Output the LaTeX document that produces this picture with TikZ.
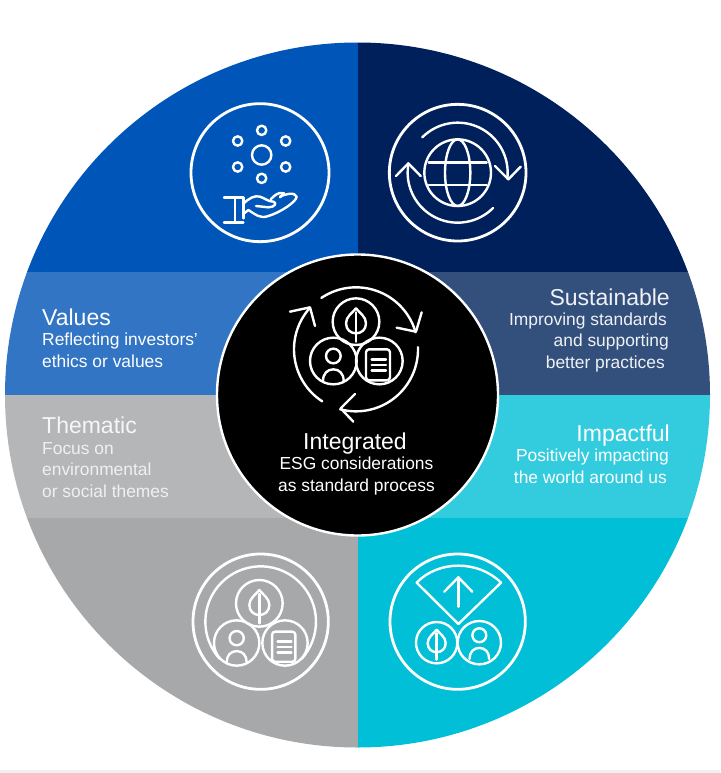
\documentclass[tikz,border=0pt]{standalone}
\usepackage{fontspec}
\setmainfont{Liberation Sans}
\definecolor{bluedeep}{HTML}{0055B8}
\definecolor{bluesoft}{HTML}{3375C5}
\definecolor{navydeep}{HTML}{00205B}
\definecolor{navysoft}{HTML}{33507C}
\definecolor{cyandeep}{HTML}{00BFD7}
\definecolor{cyansoft}{HTML}{33CCDE}
\definecolor{greydeep}{HTML}{A7A8AA}
\definecolor{greysoft}{HTML}{B5B6B8}
\definecolor{footstrip}{HTML}{EEF0F3}
\tikzset{
  iconline/.style={draw=white, line width=2.4pt, line cap=round, line join=round},
  iconring/.style={draw=white, line width=2.8pt},
  titlelabel/.style={inner sep=0pt, font=\fontsize{23}{27}\selectfont},
  sublabel/.style={inner sep=0pt, font=\fontsize{17.4}{21.2}\selectfont}
}
% arc in the y-down system: centre x, centre y, radius, from, to
\newcommand{\iconarc}[5]{\draw[iconline] plot[domain=#4:#5,samples=50] ({#1+#3*cos(\x)},{#2+#3*sin(\x)});}
\newcommand{\leafmark}[3]{
  \begin{scope}[shift={(#1,#2)},scale=#3]
    \draw[iconline] (0,-40) .. controls (12,-25) and (30,-15) .. (30,5) .. controls (30,25) and (15,35) .. (0,35)
      .. controls (-15,35) and (-30,25) .. (-30,5) .. controls (-30,-15) and (-12,-25) .. (0,-40);
    \draw[iconline] (0,-28) -- (0,60);
  \end{scope}}
\newcommand{\personmark}[3]{
  \begin{scope}[shift={(#1,#2)},scale=#3]
    \draw[iconline] (0,-15) circle[radius=22];
    \draw[iconline] (-31,60) .. controls (-31,38) and (-18,25) .. (0,25) .. controls (18,25) and (31,38) .. (31,60);
  \end{scope}}
\newcommand{\docmark}[3]{
  \begin{scope}[shift={(#1,#2)},scale=#3]
    \draw[iconline, rounded corners=3pt] (-40,-35) rectangle (32,58);
    \foreach \liney in {-5,12,29} \draw[iconline] (-23,\liney) -- (20,\liney);
  \end{scope}}

\begin{document}
\begin{tikzpicture}[x=1pt,y=-1pt]
\useasboundingbox (0,0) rectangle (720,773);
\fill[footstrip] (0,770) rectangle (720,773);

% the wheel
\begin{scope}
  \clip (357.5,395) circle[radius=352.5];
  \fill[bluedeep] (0,0) rectangle (357.5,272);
  \fill[navydeep] (357.5,0) rectangle (720,272);
  \fill[bluesoft] (0,272) rectangle (357.5,395);
  \fill[navysoft] (357.5,272) rectangle (720,395);
  \fill[greysoft] (0,395) rectangle (357.5,518);
  \fill[cyansoft] (357.5,395) rectangle (720,518);
  \fill[greydeep] (0,518) rectangle (357.5,773);
  \fill[cyandeep] (357.5,518) rectangle (720,773);
\end{scope}

\node[circle, draw=white, line width=2.4pt, fill=black, minimum size=281pt, inner sep=0pt] (hub) at (357.5,395) {};

% values icon
\begin{scope}[shift={(180,90)},scale=1/3]
  \draw[iconring] (240,248) circle[radius=207];
  \draw[iconline] (245,195) circle[radius=29];
  \foreach \dotx/\doty in {245/121,173/153,317/153,173/231,317/231,245/265}
    \draw[iconline] (\dotx,\doty) circle[radius=14];
  \draw[iconline] (132,323) -- (190,323) -- (190,385);
  \draw[iconline] (165,323) -- (165,397);
  \draw[iconline] (132,397) -- (190,397);
  \draw[iconline] (190,342) .. controls (205,325) and (225,315) .. (240,320) .. controls (255,325) and (265,335) .. (280,335)
    .. controls (292,338) and (285,352) .. (265,352) -- (228,348);
  \draw[iconline] (272,328) .. controls (285,315) and (295,305) .. (312,310) -- (300,322);
  \draw[iconline] (300,320) .. controls (315,312) and (345,305) .. (350,320) .. controls (350,335) and (300,368) .. (265,378)
    .. controls (240,388) and (225,372) .. (205,360) -- (190,372);
\end{scope}

% sustainable icon
\begin{scope}[shift={(370,90)},scale=1/3]
  \draw[iconring] (263,248) circle[radius=205];
  \draw[iconline] (263,248) circle[radius=100];
  \draw[iconline] (263,248) ellipse[x radius=38, y radius=100];
  \draw[iconline] (176,218) -- (350,218);
  \draw[iconline] (176,285) -- (350,285);
  \iconarc{263}{248}{150}{-135}{7}
  \iconarc{263}{248}{150}{45}{190}
  \draw[iconline] (375,228) -- (415,268) -- (452,230);
  \draw[iconline] (78,258) -- (115,220) -- (152,258);
\end{scope}

% integrated icon
\begin{scope}[shift={(270,280)},scale=1/3]
  \iconarc{258}{208}{186}{-124}{-16}
  \iconarc{258}{208}{186}{-2}{105}
  \iconarc{258}{208}{186}{123}{222}
  \draw[iconline] (380,143) -- (438,155) -- (455,97);
  \draw[iconline] (255,342) -- (212,385) -- (250,425);
  \draw[iconline] (60,95) -- (120,82) -- (135,138);
  \draw[iconline] (258,125) circle[radius=70];
  \draw[iconline] (190,243) circle[radius=70];
  \draw[iconline] (328,243) circle[radius=70];
  \leafmark{258}{125}{1}
  \personmark{190}{243}{1}
  \docmark{328}{243}{1}
\end{scope}

% thematic icon
\begin{scope}[shift={(180,540)},scale=1/3]
  \draw[iconring] (242,245) circle[radius=203];
  \iconarc{242}{245}{166}{138}{402}
  \draw[iconline] (238,190) circle[radius=70];
  \draw[iconline] (170,309) circle[radius=68];
  \draw[iconline] (315,309) circle[radius=68];
  \leafmark{238}{190}{1}
  \personmark{170}{309}{0.97}
  \docmark{315}{309}{0.97}
\end{scope}

% impactful icon
\begin{scope}[shift={(375,540)},scale=1/3]
  \draw[iconring] (248,245) circle[radius=203];
  \draw[iconline] (250,252) -- (125,128) .. controls (190,60) and (310,60) .. (378,128) -- cycle;
  \draw[iconline] (250,200) -- (250,112);
  \draw[iconline] (208,155) -- (250,112) -- (292,155);
  \draw[iconline] (185,308) circle[radius=62];
  \draw[iconline] (313,308) circle[radius=65];
  \leafmark{185}{305}{0.9}
  \personmark{313}{300}{0.95}
\end{scope}

% labels
\node[titlelabel, text=white, anchor=base west] (valuestitle) at (42,325) {Values};
\node[sublabel, text=white, anchor=base west, align=left] (valuesnote) at (42,367) {Reflecting investors’\\ethics or values};
\node[titlelabel, text=white!88!greysoft, anchor=base west] (thematictitle) at (42,433) {Thematic};
\node[sublabel, text=white!80!greysoft, anchor=base west, align=left] (thematicnote) at (42,497) {Focus on\\environmental\\or social themes};
\node[titlelabel, text=white!92!navysoft, anchor=base east] (sustainabletitle) at (670,305) {Sustainable};
\node[sublabel, text=white!92!navysoft, anchor=base east, align=right] (sustainablenote) at (669,368) {Improving standards\hspace*{2pt}\\and supporting\\better practices\hspace*{4pt}};
\node[titlelabel, text=white, anchor=base east] (impactfultitle) at (670,441) {Impactful};
\node[sublabel, text=white, anchor=base east, align=right] (impactfulnote) at (669,483) {Positively impacting\\the world around us\hspace*{2pt}};
\node[titlelabel, text=white, anchor=base] (integratedtitle) at (355,449) {Integrated};
\node[sublabel, text=white, anchor=base, align=center] (integratednote) at (356.5,491) {ESG considerations\\as standard process};
\end{tikzpicture}
\end{document}
